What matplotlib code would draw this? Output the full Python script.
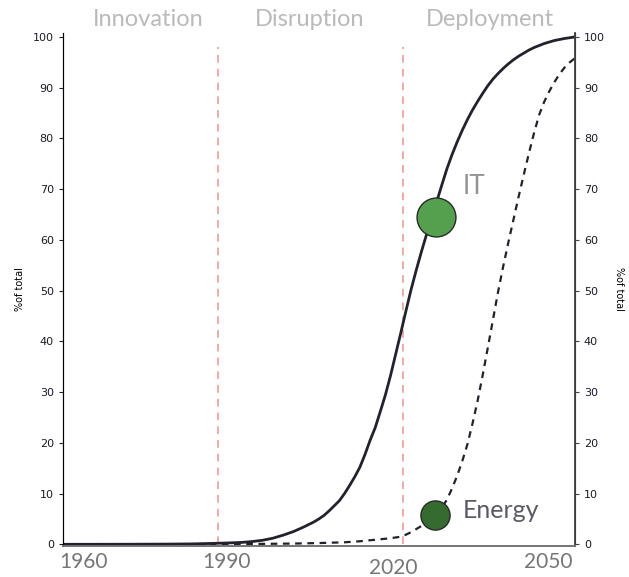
import numpy as np
import matplotlib.pyplot as plt

# S-curves of adoption, % of total
it_years = [1955, 1965, 1975, 1980, 1985, 1988] + list(range(1990, 2004, 2)) + list(range(2004, 2056))
it_share = [0, 0.01, 0.04, 0.08, 0.2, 0.3,
            0.38, 0.55, 0.8, 1.2, 1.8, 2.5, 3.4,
            4.4, 5.0, 5.7, 6.6, 7.6, 8.6, 10.0, 11.6, 13.3, 15.2,
            17.7, 20.5, 23.0, 26.2, 29.5, 33.3, 37.5, 41.7, 46.0, 50.2,
            54.0, 57.6, 61.0, 64.3, 67.5, 70.8, 74.0, 76.8, 79.3, 81.6,
            83.7, 85.6, 87.3, 88.9, 90.4, 91.7, 92.8, 93.8, 94.7, 95.5,
            96.2, 96.8, 97.4, 97.9, 98.3, 98.7, 99.0, 99.3, 99.5, 99.7,
            99.85, 100]

energy_years = [1955, 1980, 1990, 2000, 2005, 2010, 2013, 2015, 2017, 2019] + list(range(2021, 2056))
energy_share = [0, 0.02, 0.05, 0.15, 0.25, 0.4, 0.6, 0.8, 1.0, 1.2,
                1.5, 1.9, 2.4, 3.0, 3.6, 4.3, 5.1, 6.0, 7.2, 8.8,
                11.0, 13.5, 16.4, 19.7, 23.8, 28.3, 33.4, 38.8, 44.3, 49.8,
                54.8, 59.5, 64.0, 68.5, 72.8, 77.0, 81.0, 84.6, 87.2, 89.3,
                91.1, 92.7, 94.0, 95.0, 95.8]

# today's position on each curve
it_now = (2027.9, 64.6)
energy_now = (2027.7, 5.7)

# phase boundaries and phase names
phase_bounds = [1985.3, 2021.4]
phase_names = ['Innovation', 'Disruption', 'Deployment']
phase_centers = [1971.6, 2003.2, 2038.4]

year_labels = ['1960', '1990', '2020', '2050']
year_label_pos = [1959.1, 1987.0, 2019.6, 2049.7]
year_label_drop = [0.032, 0.032, 0.044, 0.032]

font = dict(family=['Lato', 'DejaVu Sans'])

fig = plt.figure(figsize=(6.29, 5.77), dpi=100)
ax = fig.add_axes([0.1, 0.054, 0.814, 0.889])

ax.plot(it_years, it_share, color='#22222e', lw=2.0, zorder=3, solid_joinstyle='round')
ax.plot(energy_years, energy_share, color='#22222e', lw=1.6, ls=(0, (3, 2.5)), zorder=3)

ax.vlines(phase_bounds, 0, 98, colors='#e8958e', linestyles=(0, (5, 4)), lw=1.1, zorder=2)

ax.plot(*it_now, 'o', ms=28, mfc='#55a04e', mec='#2a2a2a', mew=1.0, zorder=4)
ax.plot(*energy_now, 'o', ms=21, mfc='#366b30', mec='#2a2a2a', mew=1.0, zorder=4)
ax.text(2033.0, 70.5, 'IT', fontsize=19, color='#939393', va='center', **font)
ax.text(2033.1, 6.7, 'Energy', fontsize=18, color='#5a5a64', va='center', **font)

for name, xc in zip(phase_names, phase_centers):
    ax.text(xc, 1.026, name, transform=ax.get_xaxis_transform(), ha='center', va='center',
            fontsize=17, color='#bababa', **font)

for lab, xp, dy in zip(year_labels, year_label_pos, year_label_drop):
    ax.text(xp, -dy, lab, transform=ax.get_xaxis_transform(), ha='center', va='center',
            fontsize=15, color='#767676', **font)

ax.set_xlim(1955, 2055)
ax.set_ylim(-0.3, 100.8)
ax.set_xticks([])
ax.set_yticks(np.arange(0, 101, 10))
ax.tick_params(axis='y', labelsize=8, length=3, colors='#222222', labelcolor='#1a1a2a')
ax.set_ylabel('%of total', fontsize=7, labelpad=6)

ax2 = ax.twinx()
ax2.set_ylim(ax.get_ylim())
ax2.set_yticks(np.arange(0, 101, 10))
ax2.tick_params(axis='y', labelsize=8, length=3, colors='#444444', labelcolor='#1a1a2a')
ax2.set_ylabel('%of total', fontsize=7, rotation=270, labelpad=14)

for a in (ax, ax2):
    a.spines['top'].set_visible(False)
    a.spines['bottom'].set_color('#777777')
    a.spines['bottom'].set_linewidth(1.3)
ax.spines['left'].set_color('#111111')
ax2.spines['right'].set_color('#444444')
ax2.spines['right'].set_linewidth(1.3)

fig.savefig('out.png', dpi=100)
